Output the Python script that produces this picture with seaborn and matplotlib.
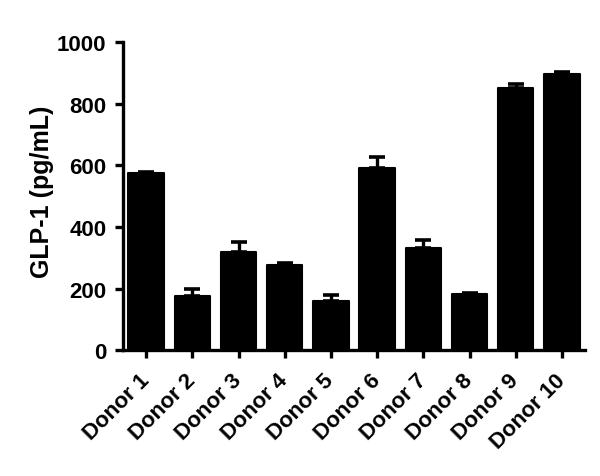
import matplotlib
matplotlib.use("Agg")
import matplotlib.pyplot as plt
import seaborn as sns
import numpy as np
import pandas as pd

donors = ["Donor 1", "Donor 2", "Donor 3", "Donor 4", "Donor 5",
          "Donor 6", "Donor 7", "Donor 8", "Donor 9", "Donor 10"]
means = [576, 176, 319, 276, 158, 591, 333, 183, 852, 897]
sems = [3, 24, 33, 6, 20, 36, 26, 4, 13, 6]
yticks = [0, 200, 400, 600, 800, 1000]

sns.set_theme(style="ticks")
plt.rcParams['font.family'] = ['Liberation Sans', 'DejaVu Sans']
plt.rcParams['font.weight'] = 'bold'
plt.rcParams['text.color'] = 'black'
plt.rcParams['axes.labelcolor'] = 'black'
plt.rcParams['xtick.color'] = 'black'
plt.rcParams['ytick.color'] = 'black'

df = pd.DataFrame({"donor": donors, "glp1": means})

fig = plt.figure(figsize=(6, 4.77), dpi=100)
ax = fig.add_axes([0.205, 0.264, 0.77, 0.645])

sns.barplot(data=df, x="donor", y="glp1", color="black", errorbar=None,
            width=0.77, edgecolor="black", linewidth=1.5, saturation=1, ax=ax)
for p in ax.patches:
    p.set_joinstyle("round")

x = np.arange(len(donors))
ax.errorbar(x, means, yerr=[np.zeros(len(sems)), sems], fmt="none",
            ecolor="black", elinewidth=2.4, capsize=5.8, capthick=2.6, zorder=1)

ax.set_xlim(-0.5, 9.5)
ax.set_ylim(0, 1000)
ax.set_yticks(yticks)
ax.set_yticklabels([str(v) for v in yticks], fontsize=16, fontweight="bold")
ax.set_xticks(x)
ax.set_xticklabels(donors, rotation=45, ha="right", va="center", rotation_mode="anchor",
                   fontsize=16, fontweight="bold")
ax.set_xlabel("")
ax.set_ylabel("GLP-1 (pg/mL)", fontsize=18, fontweight="bold")
ax.yaxis.set_label_coords(-0.15, 0.518)

for s in ["top", "right"]:
    ax.spines[s].set_visible(False)
for s in ["left", "bottom"]:
    ax.spines[s].set_linewidth(2.4)
    ax.spines[s].set_color("black")
ax.tick_params(axis="both", width=2.4, length=6, color="black")
ax.tick_params(axis="x", pad=13.5)
ax.tick_params(axis="y", pad=6)

fig.savefig("out.png", dpi=100)
